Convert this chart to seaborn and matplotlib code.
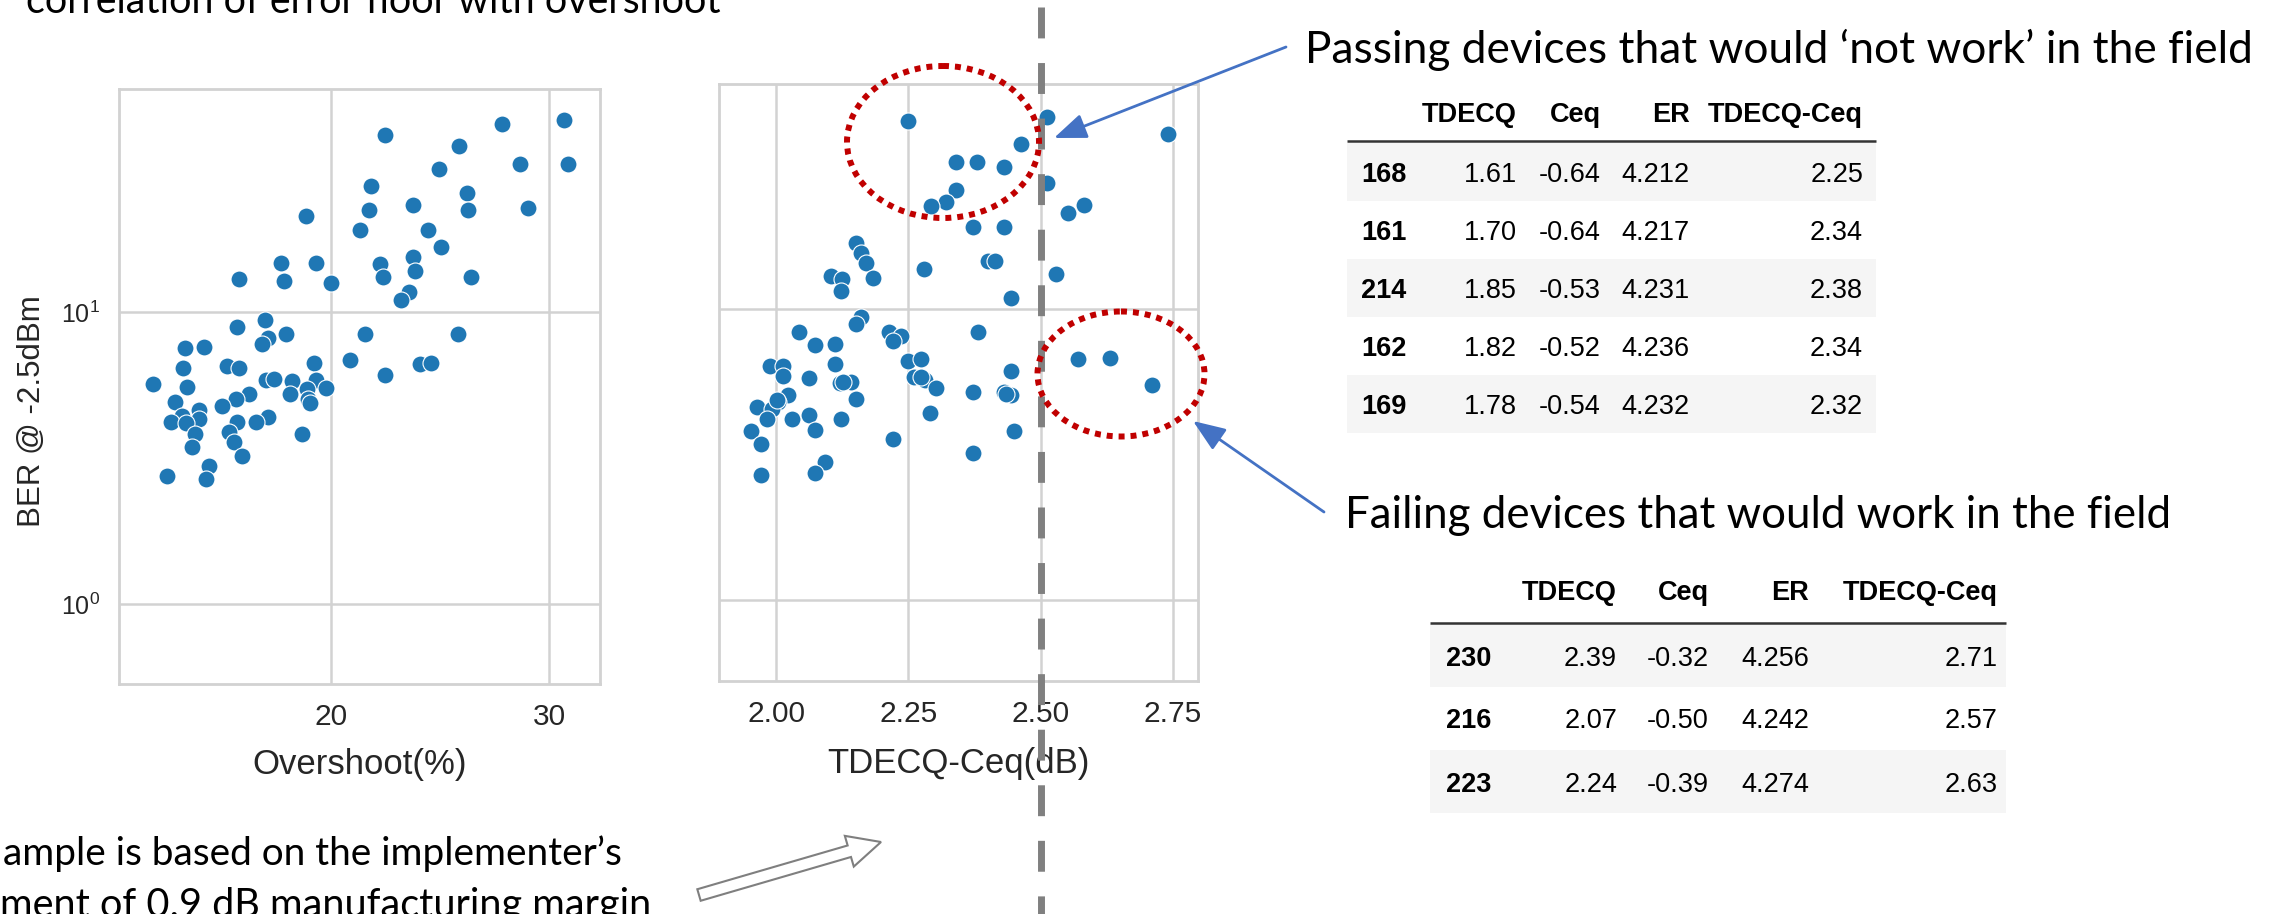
import matplotlib
matplotlib.use("Agg")
import matplotlib.pyplot as plt
import matplotlib.transforms as mtransforms
from matplotlib.patches import Ellipse, FancyArrow, Rectangle
from matplotlib.ticker import NullFormatter
import seaborn as sns

# ---- scatter data: overshoot vs BER ----
overshoot = [30.69, 27.86, 22.49, 25.86, 28.67, 30.86, 24.94, 21.84, 26.22, 23.76,
             21.76, 26.29, 29.02, 18.84, 21.31, 24.47, 25.04, 23.76, 17.73, 19.31,
             22.27, 23.84, 22.39, 26.41, 15.78, 17.84, 20.02, 23.57, 23.22, 16.96,
             15.67, 17.12, 17.94, 21.57, 25.84, 16.84, 14.20, 13.31, 13.20, 15.22,
             15.80, 19.24, 20.86, 24.10, 24.59, 22.49, 11.84, 13.39, 17.04, 17.41,
             18.20, 19.31, 19.76, 18.88, 18.12, 16.22, 15.65, 12.86, 15.00, 18.96,
             19.04, 13.94, 13.18, 13.96, 12.65, 13.37, 17.12, 16.57, 15.69, 15.31,
             13.76, 18.67, 15.57, 13.65, 15.94, 14.39, 12.47, 14.27]
ber_overshoot = [45.5, 44.2, 40.3, 37.2, 32.2, 32.2, 30.8, 27.0, 25.5, 23.2,
                 22.4, 22.4, 22.8, 21.4, 19.1, 19.1, 16.7, 15.5, 14.7, 14.7,
                 14.6, 13.8, 13.2, 13.2, 13.0, 12.8, 12.6, 11.7, 11.0, 9.38,
                 8.90, 8.15, 8.38, 8.38, 8.38, 7.78, 7.62, 7.52, 6.44, 6.53,
                 6.44, 6.71, 6.83, 6.64, 6.71, 6.11, 5.65, 5.55, 5.83, 5.92,
                 5.79, 5.86, 5.50, 5.44, 5.25, 5.25, 5.05, 4.91, 4.75, 5.05,
                 4.90, 4.62, 4.40, 4.31, 4.20, 4.17, 4.38, 4.19, 4.19, 3.87,
                 3.82, 3.82, 3.58, 3.46, 3.21, 2.97, 2.75, 2.69]

# ---- scatter data: TDECQ-Ceq vs BER ----
tdecq_ceq = [2.25, 2.511, 2.741, 2.462, 2.34, 2.38, 2.431, 2.34, 2.32, 2.292,
             2.511, 2.582, 2.551, 2.371, 2.431, 2.151, 2.161, 2.170, 2.401, 2.413,
             2.280, 2.528, 2.104, 2.124, 2.183, 2.122, 2.443, 2.160, 2.151, 2.043,
             2.213, 2.235, 2.221, 2.382, 2.073, 2.112, 1.989, 2.013, 2.012, 2.111,
             2.062, 2.250, 2.273, 2.57, 2.63, 2.71, 2.443, 2.260, 2.282, 2.302,
             2.121, 2.142, 2.022, 2.151, 2.371, 2.431, 2.443, 1.963, 2.003, 1.993,
             2.030, 1.983, 2.062, 2.123, 2.291, 2.074, 2.450, 1.953, 1.972, 2.220,
             2.371, 2.093, 2.073, 1.972, 2.001, 2.434, 2.273, 2.126]
ber_tdecq = [44.3, 45.7, 40.1, 37.1, 32.1, 32.1, 30.8, 25.6, 23.4, 22.6,
             27.1, 22.9, 21.4, 19.2, 19.2, 16.9, 15.6, 14.4, 14.7, 14.7,
             13.8, 13.2, 13.0, 12.7, 12.8, 11.6, 10.9, 9.40, 8.87, 8.37,
             8.34, 8.10, 7.76, 8.34, 7.52, 7.63, 6.39, 6.39, 5.91, 6.50,
             5.82, 6.64, 6.73, 6.73, 6.83, 5.48, 6.12, 5.85, 5.70, 5.38,
             5.57, 5.63, 5.09, 4.91, 5.22, 5.22, 5.06, 4.63, 4.79, 4.55,
             4.20, 4.20, 4.33, 4.20, 4.39, 3.85, 3.83, 3.83, 3.46, 3.58,
             3.21, 2.99, 2.74, 2.70, 4.88, 5.12, 5.85, 5.64]

tdecq_limit = 2.50

# ---- tables ----
table_columns = ["TDECQ", "Ceq", "ER", "TDECQ-Ceq"]

pass_index = ["168", "161", "214", "162", "169"]
pass_tdecq = [1.61, 1.70, 1.85, 1.82, 1.78]
pass_ceq = [-0.64, -0.64, -0.53, -0.52, -0.54]
pass_er = [4.212, 4.217, 4.231, 4.236, 4.232]
pass_diff = [2.25, 2.34, 2.38, 2.34, 2.32]

fail_index = ["230", "216", "223"]
fail_tdecq = [2.39, 2.07, 2.24]
fail_ceq = [-0.32, -0.50, -0.39]
fail_er = [4.256, 4.242, 4.274]
fail_diff = [2.71, 2.57, 2.63]

# ---- styling ----
sns.set_theme(style="whitegrid")
plt.rcParams['font.family'] = ['Liberation Sans', 'DejaVu Sans']

W, H = 2283, 914
fig = plt.figure(figsize=(W / 100, H / 100), dpi=100)
fig.patch.set_facecolor("white")

GRID = "#d2d2d2"
TXT = "#262626"
DOT = "#1f77b4"
SLIDE_FONT = ['Lato', 'DejaVu Sans']


def px_axes(x0, y0, x1, y1, **kw):
    return fig.add_axes([x0 / W, 1 - y1 / H, (x1 - x0) / W, (y1 - y0) / H], **kw)


def style_axes(ax):
    ax.set_yscale("log")
    ax.grid(True, which="major", color=GRID, lw=1.8)
    ax.grid(False, which="minor")
    ax.yaxis.set_minor_formatter(NullFormatter())
    for sp in ax.spines.values():
        sp.set_color(GRID)
        sp.set_linewidth(2.0)
    ax.tick_params(axis="x", labelsize=21.5, pad=14, labelcolor=TXT, length=0)
    ax.tick_params(axis="y", labelsize=18, pad=14, labelcolor=TXT, length=0)
    ax.tick_params(which="minor", length=0)


# left panel: BER vs overshoot
ax1 = px_axes(119, 89, 600, 684)
sns.scatterplot(x=overshoot, y=ber_overshoot, ax=ax1, s=150, color=DOT,
                edgecolor="white", linewidth=0.8, zorder=3)
style_axes(ax1)
ax1.set_xlim(10.28, 32.34)
ax1.set_ylim(0.532, 58.1)
ax1.set_xticks([20, 30])
ax1.set_yticks([1, 10])
ax1.set_xlabel("Overshoot(%)", fontsize=25, color=TXT)
ax1.xaxis.label.set_va("center")
ax1.xaxis.set_label_coords(0.5, -0.1345)
ax1.set_ylabel("BER @ -2.5dBm", fontsize=22.5, color=TXT)
ax1.yaxis.label.set_va("center")
ax1.yaxis.set_label_coords(-0.181, 0.459)

# right panel: BER vs TDECQ-Ceq
ax2 = px_axes(719, 84, 1198, 681)
sns.scatterplot(x=tdecq_ceq, y=ber_tdecq, ax=ax2, s=150, color=DOT,
                edgecolor="white", linewidth=0.8, zorder=3)
style_axes(ax2)
ax2.set_xlim(1.892, 2.797)
ax2.set_ylim(0.529, 59.4)
ax2.set_xticks([2.00, 2.25, 2.50, 2.75])
ax2.set_xticklabels(["2.00", "2.25", "2.50", "2.75"])
ax2.set_yticks([1, 10])
ax2.tick_params(axis="y", labelleft=False)
ax2.set_ylabel("")
ax2.set_xlabel("TDECQ-Ceq(dB)", fontsize=25, color=TXT)
ax2.xaxis.label.set_va("center")
ax2.xaxis.set_label_coords(0.5, -0.139)

# pass/fail threshold spanning the full page height
trans = mtransforms.blended_transform_factory(ax2.transData, fig.transFigure)
ax2.plot([tdecq_limit, tdecq_limit], [1 - 7 / H, 0], transform=trans,
         color="#808080", lw=5, clip_on=False, zorder=6,
         dash_capstyle="butt", dashes=(4.45, 3.55))

# ---- annotation layer in page pixels ----
ov = fig.add_axes([0, 0, 1, 1], zorder=10)
ov.set_xlim(0, W)
ov.set_ylim(H, 0)
ov.axis("off")

RED = "#C00000"
ov.add_patch(Ellipse((943, 142), 192, 152, fill=False, ec=RED, lw=4.3,
                     ls=(0, (1, 1))))
ov.add_patch(Ellipse((1121, 374), 167, 125, fill=False, ec=RED, lw=4.3,
                     ls=(0, (1, 1))))

ARROW = "#4472C4"
ov.annotate("", xy=(1054, 138), xytext=(1286, 47),
            arrowprops=dict(arrowstyle="-|>,head_length=0.9,head_width=0.35",
                            color=ARROW, lw=2, mutation_scale=22,
                            shrinkA=0, shrinkB=0))
ov.annotate("", xy=(1193, 421), xytext=(1324, 512),
            arrowprops=dict(arrowstyle="-|>,head_length=0.9,head_width=0.35",
                            color=ARROW, lw=2, mutation_scale=22,
                            shrinkA=0, shrinkB=0))

ov.add_patch(FancyArrow(699, 895, 182, -53, width=12, head_width=32,
                        head_length=33, length_includes_head=True,
                        fc="white", ec="#7f7f7f", lw=1.5))

fits = []


def slide_text(x, y, s, width):
    t = ov.text(x, y, s, family=SLIDE_FONT, fontsize=28, ha="left",
                va="baseline", color="black")
    fits.append((t, width))


slide_text(26, 13, "correlation of error floor with overshoot", 698)
slide_text(1305, 63, "Passing devices that would \u2018not work\u2019 in the field", 948)
slide_text(1345, 528, "Failing devices that would work in the field", 826)
slide_text(3, 865, "ample is based on the implementer\u2019s", 618)
slide_text(0, 917, "ment of 0.9 dB manufacturing margin", 652)

TFS = 19.5


def draw_table(x0, x1, header_y, line_y, row_top, row_h, idx_x, col_right,
               index, cols, fmts):
    for name, xr in zip(table_columns, col_right):
        ov.text(xr, header_y, name, ha="right", va="center_baseline",
                weight="bold", fontsize=TFS, color="black")
    ov.plot([x0, x1], [line_y, line_y], color="#333333", lw=1.8,
            solid_capstyle="butt")
    for i, lab in enumerate(index):
        top = row_top + i * row_h
        cy = top + row_h / 2
        if i % 2 == 0:
            ov.add_patch(Rectangle((x0, top), x1 - x0, row_h, fc="#f5f5f5",
                                   ec="none", zorder=0))
        ov.text(idx_x, cy, lab, ha="left", va="center_baseline",
                weight="bold", fontsize=TFS, color="black")
        for vals, fmt, xr in zip(cols, fmts, col_right):
            ov.text(xr, cy, fmt.format(vals[i]), ha="right",
                    va="center_baseline", fontsize=TFS, color="black")


fmts = ["{:.2f}", "{:.2f}", "{:.3f}", "{:.2f}"]
draw_table(1347, 1876, 112, 141, 143, 58, 1361, [1517, 1601, 1690, 1863],
           pass_index, [pass_tdecq, pass_ceq, pass_er, pass_diff], fmts)
draw_table(1430, 2006, 590, 623, 624, 63, 1446, [1617, 1709, 1809, 1998],
           fail_index, [fail_tdecq, fail_ceq, fail_er, fail_diff], fmts)

# scale the slide captions to their measured widths
fig.canvas.draw()
renderer = fig.canvas.get_renderer()
for t, width in fits:
    bb = t.get_window_extent(renderer)
    t.set_fontsize(t.get_fontsize() * width / bb.width)

fig.savefig("out.png", dpi=100, facecolor="white")
